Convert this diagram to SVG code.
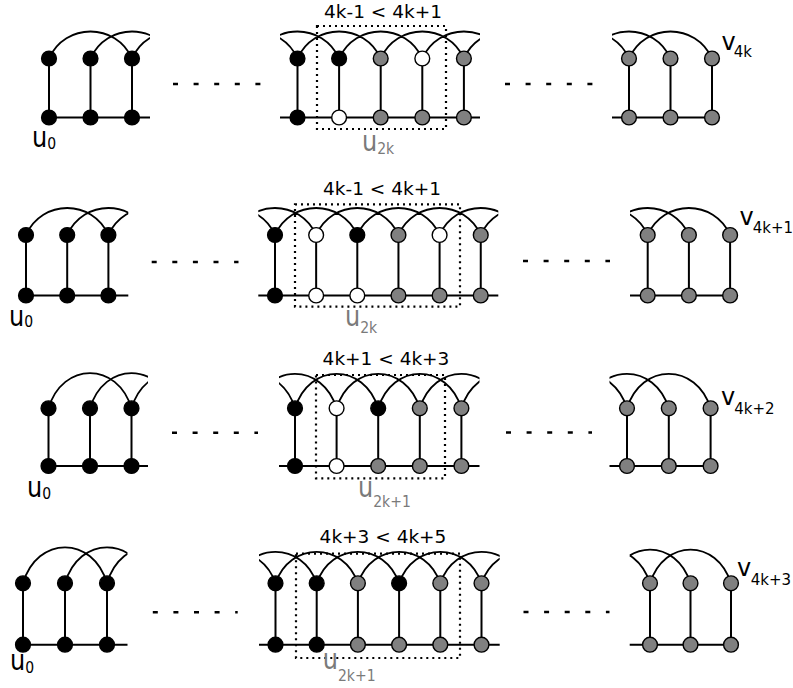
<svg xmlns="http://www.w3.org/2000/svg" width="793" height="688" viewBox="0 0 793 688">
<style>
.e{stroke:#000;stroke-width:2;fill:none}
.a{stroke:#000;stroke-width:1.8;fill:none}
.box{fill:none;stroke:#000;stroke-width:2.2;stroke-dasharray:2 4}
.sep{stroke:#000;stroke-width:2.6;stroke-dasharray:5 15.6;fill:none}
circle{stroke:#000;stroke-width:1.4}
.b circle{fill:#000}
.g circle{fill:#808080}
.w circle{fill:#fff}
text{font-family:"DejaVu Sans",Verdana,sans-serif;fill:#000}
.t{font-size:18.5px;text-anchor:middle}
.lab{font-size:24px}
.sub{font-size:15px}
.usub{font-size:14px}
.gr{fill:#7a7a7a}
</style>
<defs>
<clipPath id="c1L"><rect x="0" y="0" width="150" height="170"/></clipPath>
<clipPath id="c1M"><rect x="280" y="0" width="200" height="170"/></clipPath>
<clipPath id="c1R"><rect x="612" y="0" width="181" height="170"/></clipPath>
<clipPath id="c2L"><rect x="0" y="170" width="128.3" height="170"/></clipPath>
<clipPath id="c2M"><rect x="258.3" y="170" width="240" height="170"/></clipPath>
<clipPath id="c2R"><rect x="630" y="170" width="163" height="170"/></clipPath>
<clipPath id="c3L"><rect x="0" y="340" width="148" height="170"/></clipPath>
<clipPath id="c3M"><rect x="279" y="340" width="200.5" height="170"/></clipPath>
<clipPath id="c3R"><rect x="609.5" y="340" width="183" height="170"/></clipPath>
<clipPath id="c4L"><rect x="0" y="513" width="127.5" height="175"/></clipPath>
<clipPath id="c4M"><rect x="259" y="513" width="240.7" height="175"/></clipPath>
<clipPath id="c4R"><rect x="629.7" y="513" width="163" height="175"/></clipPath>
</defs>
<rect width="793" height="688" fill="#fff"/>

<g id="connectors">
<!-- Row 1 -->
<path class="e" d="M49 117.5H150M49 58.5V117.5M90.5 58.5V117.5M132 58.5V117.5"/>
<g clip-path="url(#c1L)"><path class="a" d="M49 58.5c16 -36 67 -36 83 0M90.5 58.5c16 -36 67 -36 83 0M132 58.5c16 -36 67 -36 83 0"/></g>
<path class="sep" d="M173 84H261"/>
<path class="e" d="M280 117.5H480M297.5 58.5V117.5M339.1 58.5V117.5M380.7 58.5V117.5M422.3 58.5V117.5M463.9 58.5V117.5"/>
<g clip-path="url(#c1M)"><path class="a" d="M214.3 58.5c16 -36 67.2 -36 83.2 0M255.9 58.5c16 -36 67.2 -36 83.2 0M297.5 58.5c16 -36 67.2 -36 83.2 0M339.1 58.5c16 -36 67.2 -36 83.2 0M380.7 58.5c16 -36 67.2 -36 83.2 0M422.3 58.5c16 -36 67.2 -36 83.2 0M463.9 58.5c16 -36 67.2 -36 83.2 0"/></g>
<path class="sep" d="M505 84H593"/>
<path class="e" d="M612 117.5H712M629 58.5V117.5M670.5 58.5V117.5M712 58.5V117.5"/>
<g clip-path="url(#c1R)"><path class="a" d="M546 58.5c16 -36 67 -36 83 0M587.5 58.5c16 -36 67 -36 83 0M629 58.5c16 -36 67 -36 83 0"/></g>

<!-- Row 2 -->
<path class="e" d="M26 295.5H128.3M26 235V295.5M67.2 235V295.5M108.4 235V295.5"/>
<g clip-path="url(#c2L)"><path class="a" d="M26 235c16 -36 66.4 -36 82.4 0M67.2 235c16 -36 66.4 -36 82.4 0M108.4 235c16 -36 66.4 -36 82.4 0"/></g>
<path class="sep" d="M151.7 262H238.5"/>
<path class="e" d="M258.3 295.5H498.3M275 235V295.5M316.15 235V295.5M357.3 235V295.5M398.45 235V295.5M439.6 235V295.5M480.75 235V295.5"/>
<g clip-path="url(#c2M)"><path class="a" d="M192.7 235c16 -36 66.3 -36 82.3 0M233.85 235c16 -36 66.3 -36 82.3 0M275 235c16 -36 66.3 -36 82.3 0M316.15 235c16 -36 66.3 -36 82.3 0M357.3 235c16 -36 66.3 -36 82.3 0M398.45 235c16 -36 66.3 -36 82.3 0M439.6 235c16 -36 66.3 -36 82.3 0M480.75 235c16 -36 66.3 -36 82.3 0"/></g>
<path class="sep" d="M523 261H610"/>
<path class="e" d="M630 295.5H730.1M647.7 235V295.5M688.9 235V295.5M730.1 235V295.5"/>
<g clip-path="url(#c2R)"><path class="a" d="M565.3 235c16 -36 66.4 -36 82.4 0M606.5 235c16 -36 66.4 -36 82.4 0M647.7 235c16 -36 66.4 -36 82.4 0"/></g>

<!-- Row 3 -->
<path class="e" d="M48.5 466H148M48.5 408.3V466M90 408.3V466M131.5 408.3V466"/>
<g clip-path="url(#c3L)"><path class="a" d="M48.5 408.3c14 -47 69 -47 83 0M90 408.3c14 -47 69 -47 83 0M131.5 408.3c14 -47 69 -47 83 0"/></g>
<path class="sep" d="M172 432.7H258"/>
<path class="e" d="M279 466H479.5M295 408.3V466M336.6 408.3V466M378.2 408.3V466M419.8 408.3V466M461.4 408.3V466"/>
<g clip-path="url(#c3M)"><path class="a" d="M211.8 408.3c14 -46 69.2 -46 83.2 0M253.4 408.3c14 -46 69.2 -46 83.2 0M295 408.3c14 -46 69.2 -46 83.2 0M336.6 408.3c14 -46 69.2 -46 83.2 0M378.2 408.3c14 -46 69.2 -46 83.2 0M419.8 408.3c14 -46 69.2 -46 83.2 0M461.4 408.3c14 -46 69.2 -46 83.2 0"/></g>
<path class="sep" d="M506 432.5H592"/>
<path class="e" d="M609.5 466H710.6M627 408.3V466M668.8 408.3V466M710.6 408.3V466"/>
<g clip-path="url(#c3R)"><path class="a" d="M543.4 408.3c14 -46 69.6 -46 83.6 0M585.2 408.3c14 -46 69.6 -46 83.6 0M627 408.3c14 -46 69.6 -46 83.6 0"/></g>

<!-- Row 4 -->
<path class="e" d="M23 644.7H127.5M23 583.3V644.7M65 583.3V644.7M107 583.3V644.7"/>
<g clip-path="url(#c4L)"><path class="a" d="M23 583.3c14 -48 70 -48 84 0M65 583.3c14 -48 70 -48 84 0M107 583.3c14 -48 70 -48 84 0"/></g>
<path class="sep" d="M152.8 612.3H237.7"/>
<path class="e" d="M259 644.7H499.7M275.5 583.3V644.7M316.7 583.3V644.7M357.9 583.3V644.7M399.1 583.3V644.7M440.3 583.3V644.7M481.5 583.3V644.7"/>
<g clip-path="url(#c4M)"><path class="a" d="M193.1 583.3c14 -42 68.4 -42 82.4 0M234.3 583.3c14 -42 68.4 -42 82.4 0M275.5 583.3c14 -42 68.4 -42 82.4 0M316.7 583.3c14 -42 68.4 -42 82.4 0M357.9 583.3c14 -42 68.4 -42 82.4 0M399.1 583.3c14 -42 68.4 -42 82.4 0M440.3 583.3c14 -42 68.4 -42 82.4 0M481.5 583.3c14 -42 68.4 -42 82.4 0"/></g>
<path class="sep" d="M523.5 612H609.5"/>
<path class="e" d="M629.7 644.7H731M650 583.3V644.7M690.5 583.3V644.7M731 583.3V644.7"/>
<g clip-path="url(#c4R)"><path class="a" d="M569 583.3c14 -45 67 -45 81 0M609.5 583.3c14 -45 67 -45 81 0M650 583.3c14 -45 67 -45 81 0"/></g>
</g>

<!-- dotted boxes -->
<rect class="box" x="317" y="26" width="129" height="103"/>
<rect class="box" x="295" y="204.3" width="165" height="102.4"/>
<rect class="box" x="316" y="375" width="129" height="103.3"/>
<rect class="box" x="296" y="553.7" width="164" height="104.3"/>

<!-- Row 1 nodes -->
<g id="n1L-t0" class="b"><circle cx="49" cy="58.5" r="7.4"/></g>
<g id="n1L-t1" class="b"><circle cx="90.5" cy="58.5" r="7.4"/></g>
<g id="n1L-t2" class="b"><circle cx="132" cy="58.5" r="7.4"/></g>
<g id="n1L-b0" class="b"><circle cx="49" cy="117.5" r="7.4"/></g>
<g id="n1L-b1" class="b"><circle cx="90.5" cy="117.5" r="7.4"/></g>
<g id="n1L-b2" class="b"><circle cx="132" cy="117.5" r="7.4"/></g>
<g id="n1M-t0" class="b"><circle cx="297.5" cy="58.5" r="7.4"/></g>
<g id="n1M-t1" class="b"><circle cx="339.1" cy="58.5" r="7.4"/></g>
<g id="n1M-t2" class="g"><circle cx="380.7" cy="58.5" r="7.4"/></g>
<g id="n1M-t3" class="w"><circle cx="422.3" cy="58.5" r="7.4"/></g>
<g id="n1M-t4" class="g"><circle cx="463.9" cy="58.5" r="7.4"/></g>
<g id="n1M-b0" class="b"><circle cx="297.5" cy="117.5" r="7.4"/></g>
<g id="n1M-b1" class="w"><circle cx="339.1" cy="117.5" r="7.4"/></g>
<g id="n1M-b2" class="g"><circle cx="380.7" cy="117.5" r="7.4"/></g>
<g id="n1M-b3" class="g"><circle cx="422.3" cy="117.5" r="7.4"/></g>
<g id="n1M-b4" class="g"><circle cx="463.9" cy="117.5" r="7.4"/></g>
<g id="n1R-t0" class="g"><circle cx="629" cy="58.5" r="7.4"/></g>
<g id="n1R-t1" class="g"><circle cx="670.5" cy="58.5" r="7.4"/></g>
<g id="n1R-t2" class="g"><circle cx="712" cy="58.5" r="7.4"/></g>
<g id="n1R-b0" class="g"><circle cx="629" cy="117.5" r="7.4"/></g>
<g id="n1R-b1" class="g"><circle cx="670.5" cy="117.5" r="7.4"/></g>
<g id="n1R-b2" class="g"><circle cx="712" cy="117.5" r="7.4"/></g>

<!-- Row 2 nodes -->
<g id="n2L-t0" class="b"><circle cx="26" cy="235" r="7.4"/></g>
<g id="n2L-t1" class="b"><circle cx="67.2" cy="235" r="7.4"/></g>
<g id="n2L-t2" class="b"><circle cx="108.4" cy="235" r="7.4"/></g>
<g id="n2L-b0" class="b"><circle cx="26" cy="295.5" r="7.4"/></g>
<g id="n2L-b1" class="b"><circle cx="67.2" cy="295.5" r="7.4"/></g>
<g id="n2L-b2" class="b"><circle cx="108.4" cy="295.5" r="7.4"/></g>
<g id="n2M-t0" class="b"><circle cx="275" cy="235" r="7.4"/></g>
<g id="n2M-t1" class="w"><circle cx="316.15" cy="235" r="7.4"/></g>
<g id="n2M-t2" class="b"><circle cx="357.3" cy="235" r="7.4"/></g>
<g id="n2M-t3" class="g"><circle cx="398.45" cy="235" r="7.4"/></g>
<g id="n2M-t4" class="w"><circle cx="439.6" cy="235" r="7.4"/></g>
<g id="n2M-t5" class="g"><circle cx="480.75" cy="235" r="7.4"/></g>
<g id="n2M-b0" class="b"><circle cx="275" cy="295.5" r="7.4"/></g>
<g id="n2M-b1" class="w"><circle cx="316.15" cy="295.5" r="7.4"/></g>
<g id="n2M-b2" class="w"><circle cx="357.3" cy="295.5" r="7.4"/></g>
<g id="n2M-b3" class="g"><circle cx="398.45" cy="295.5" r="7.4"/></g>
<g id="n2M-b4" class="g"><circle cx="439.6" cy="295.5" r="7.4"/></g>
<g id="n2M-b5" class="g"><circle cx="480.75" cy="295.5" r="7.4"/></g>
<g id="n2R-t0" class="g"><circle cx="647.7" cy="235" r="7.4"/></g>
<g id="n2R-t1" class="g"><circle cx="688.9" cy="235" r="7.4"/></g>
<g id="n2R-t2" class="g"><circle cx="730.1" cy="235" r="7.4"/></g>
<g id="n2R-b0" class="g"><circle cx="647.7" cy="295.5" r="7.4"/></g>
<g id="n2R-b1" class="g"><circle cx="688.9" cy="295.5" r="7.4"/></g>
<g id="n2R-b2" class="g"><circle cx="730.1" cy="295.5" r="7.4"/></g>

<!-- Row 3 nodes -->
<g id="n3L-t0" class="b"><circle cx="48.5" cy="408.3" r="7.4"/></g>
<g id="n3L-t1" class="b"><circle cx="90" cy="408.3" r="7.4"/></g>
<g id="n3L-t2" class="b"><circle cx="131.5" cy="408.3" r="7.4"/></g>
<g id="n3L-b0" class="b"><circle cx="48.5" cy="466" r="7.4"/></g>
<g id="n3L-b1" class="b"><circle cx="90" cy="466" r="7.4"/></g>
<g id="n3L-b2" class="b"><circle cx="131.5" cy="466" r="7.4"/></g>
<g id="n3M-t0" class="b"><circle cx="295" cy="408.3" r="7.4"/></g>
<g id="n3M-t1" class="w"><circle cx="336.6" cy="408.3" r="7.4"/></g>
<g id="n3M-t2" class="b"><circle cx="378.2" cy="408.3" r="7.4"/></g>
<g id="n3M-t3" class="g"><circle cx="419.8" cy="408.3" r="7.4"/></g>
<g id="n3M-t4" class="g"><circle cx="461.4" cy="408.3" r="7.4"/></g>
<g id="n3M-b0" class="b"><circle cx="295" cy="466" r="7.4"/></g>
<g id="n3M-b1" class="w"><circle cx="336.6" cy="466" r="7.4"/></g>
<g id="n3M-b2" class="g"><circle cx="378.2" cy="466" r="7.4"/></g>
<g id="n3M-b3" class="g"><circle cx="419.8" cy="466" r="7.4"/></g>
<g id="n3M-b4" class="g"><circle cx="461.4" cy="466" r="7.4"/></g>
<g id="n3R-t0" class="g"><circle cx="627" cy="408.3" r="7.4"/></g>
<g id="n3R-t1" class="g"><circle cx="668.8" cy="408.3" r="7.4"/></g>
<g id="n3R-t2" class="g"><circle cx="710.6" cy="408.3" r="7.4"/></g>
<g id="n3R-b0" class="g"><circle cx="627" cy="466" r="7.4"/></g>
<g id="n3R-b1" class="g"><circle cx="668.8" cy="466" r="7.4"/></g>
<g id="n3R-b2" class="g"><circle cx="710.6" cy="466" r="7.4"/></g>

<!-- Row 4 nodes -->
<g id="n4L-t0" class="b"><circle cx="23" cy="583.3" r="7.4"/></g>
<g id="n4L-t1" class="b"><circle cx="65" cy="583.3" r="7.4"/></g>
<g id="n4L-t2" class="b"><circle cx="107" cy="583.3" r="7.4"/></g>
<g id="n4L-b0" class="b"><circle cx="23" cy="644.7" r="7.4"/></g>
<g id="n4L-b1" class="b"><circle cx="65" cy="644.7" r="7.4"/></g>
<g id="n4L-b2" class="b"><circle cx="107" cy="644.7" r="7.4"/></g>
<g id="n4M-t0" class="b"><circle cx="275.5" cy="583.3" r="7.4"/></g>
<g id="n4M-t1" class="b"><circle cx="316.7" cy="583.3" r="7.4"/></g>
<g id="n4M-t2" class="g"><circle cx="357.9" cy="583.3" r="7.4"/></g>
<g id="n4M-t3" class="b"><circle cx="399.1" cy="583.3" r="7.4"/></g>
<g id="n4M-t4" class="g"><circle cx="440.3" cy="583.3" r="7.4"/></g>
<g id="n4M-t5" class="g"><circle cx="481.5" cy="583.3" r="7.4"/></g>
<g id="n4M-b0" class="b"><circle cx="275.5" cy="644.7" r="7.4"/></g>
<g id="n4M-b1" class="b"><circle cx="316.7" cy="644.7" r="7.4"/></g>
<g id="n4M-b2" class="g"><circle cx="357.9" cy="644.7" r="7.4"/></g>
<g id="n4M-b3" class="g"><circle cx="399.1" cy="644.7" r="7.4"/></g>
<g id="n4M-b4" class="g"><circle cx="440.3" cy="644.7" r="7.4"/></g>
<g id="n4M-b5" class="g"><circle cx="481.5" cy="644.7" r="7.4"/></g>
<g id="n4R-t0" class="g"><circle cx="650" cy="583.3" r="7.4"/></g>
<g id="n4R-t1" class="g"><circle cx="690.5" cy="583.3" r="7.4"/></g>
<g id="n4R-t2" class="g"><circle cx="731" cy="583.3" r="7.4"/></g>
<g id="n4R-b0" class="g"><circle cx="650" cy="644.7" r="7.4"/></g>
<g id="n4R-b1" class="g"><circle cx="690.5" cy="644.7" r="7.4"/></g>
<g id="n4R-b2" class="g"><circle cx="731" cy="644.7" r="7.4"/></g>

<!-- labels -->
<g id="labels">
<text class="t" x="383" y="18">4k-1 &lt; 4k+1</text>
<text class="t" x="382" y="195">4k-1 &lt; 4k+1</text>
<text class="t" x="386" y="365">4k+1 &lt; 4k+3</text>
<text class="t" x="383" y="543">4k+3 &lt; 4k+5</text>

<text class="lab" transform="translate(32 146.5) scale(1 1.15)">u<tspan class="usub" dy="2.3">0</tspan></text>
<text class="lab" transform="translate(9 326) scale(1 1.15)">u<tspan class="usub" dy="0.6">0</tspan></text>
<text class="lab" transform="translate(27 496.7) scale(1 1.15)">u<tspan class="usub" dy="2.3">0</tspan></text>
<text class="lab" transform="translate(10 669.5) scale(1 1.15)">u<tspan class="usub" dy="3">0</tspan></text>

<text class="lab gr" transform="translate(362 151) scale(1 1.15)">u<tspan class="usub" dy="2.6">2k</tspan></text>
<text class="lab gr" transform="translate(345 326) scale(1 1.15)">u<tspan class="usub" dy="6">2k</tspan></text>
<text class="lab gr" transform="translate(358 496.7) scale(1 1.15)">u<tspan class="usub" dy="9">2k+1</tspan></text>
<text class="lab gr" transform="translate(322.7 668.5) scale(1 1.15)">u<tspan class="usub" dy="11">2k+1</tspan></text>

<text class="lab" x="721.5" y="50">v<tspan class="sub" dx="-2" dy="6.5">4k</tspan></text>
<text class="lab" x="739.5" y="225">v<tspan class="sub" dx="-1" dy="8.3">4k+1</tspan></text>
<text class="lab" x="721" y="405">v<tspan class="sub" dx="-1" dy="9">4k+2</tspan></text>
<text class="lab" x="737" y="576.3">v<tspan class="sub" dx="-0.5" dy="8.4">4k+3</tspan></text>
</g>
</svg>
